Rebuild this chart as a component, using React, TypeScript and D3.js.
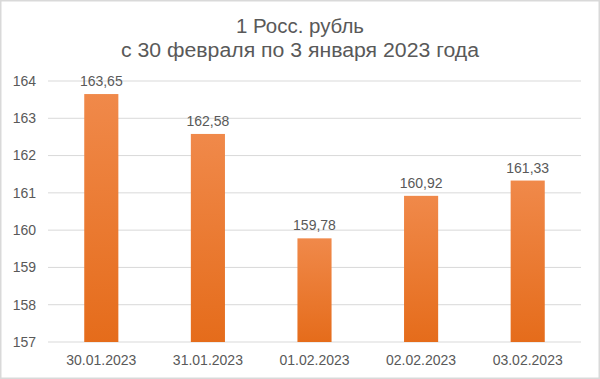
import React from "react";
import * as d3 from "d3";

const categories: string[] = ["30.01.2023", "31.01.2023", "01.02.2023", "02.02.2023", "03.02.2023"];
const rates: number[] = [163.65, 162.58, 159.78, 160.92, 161.33];
const yTicks: number[] = [157, 158, 159, 160, 161, 162, 163, 164];
const titleLines: string[] = ["1 Росс. рубль", "с 30 февраля по 3 января 2023 года"];
const titleWidths: number[] = [128, 358];

const W = 600;
const H = 379;
const M = { left: 48, right: 19, top: 81, bottom: 37 };
const FONT = "'Liberation Sans', Arial, sans-serif";
const TEXT = "#595959";

export default function App() {
  const x = d3
    .scaleBand<string>()
    .domain(categories)
    .range([M.left, W - M.right])
    .paddingInner(0.68)
    .paddingOuter(0.34);
  const y = d3.scaleLinear().domain([157, 164]).range([H - M.bottom, M.top]);
  const fmt = (v: number) => d3.format(".2f")(v).replace(".", ",");

  return (
    <svg
      width={W}
      height={H}
      style={{ position: "absolute", left: 0, top: 0, background: "#fff" }}
      fontFamily={FONT}
    >
      <defs>
        <linearGradient id="barGrad" x1="0" y1="0" x2="0" y2="1">
          <stop offset="0%" stopColor="#F0894A" />
          <stop offset="100%" stopColor="#E56C1B" />
        </linearGradient>
      </defs>
      <rect x={0.75} y={0.75} width={W - 1.5} height={H - 1.5} fill="#fff" stroke="#d9d9d9" strokeWidth={1.5} />
      {titleLines.map((t, i) => (
        <text
          key={i}
          x={W / 2}
          y={33 + i * 24}
          textAnchor="middle"
          fontSize={19.5}
          fill={TEXT}
          textLength={titleWidths[i]}
          lengthAdjust="spacingAndGlyphs"
        >
          {t}
        </text>
      ))}
      {yTicks.map((t) => (
        <g key={t}>
          <line x1={M.left} x2={W - M.right} y1={y(t)} y2={y(t)} stroke="#d9d9d9" strokeWidth={1} />
          <text x={36} y={y(t)} dy="0.35em" textAnchor="end" fontSize={14} fill={TEXT}>
            {t}
          </text>
        </g>
      ))}
      {categories.map((c, i) => {
        const bx = x(c)!;
        const top = y(rates[i]);
        return (
          <g key={c}>
            <rect x={bx} y={top} width={x.bandwidth()} height={y(157) - top} fill="url(#barGrad)" />
            <text x={bx + x.bandwidth() / 2} y={top - 8} textAnchor="middle" fontSize={14} fill={TEXT}>
              {fmt(rates[i])}
            </text>
            <text x={bx + x.bandwidth() / 2} y={H - 14} textAnchor="middle" fontSize={14} fill={TEXT}>
              {c}
            </text>
          </g>
        );
      })}
    </svg>
  );
}
